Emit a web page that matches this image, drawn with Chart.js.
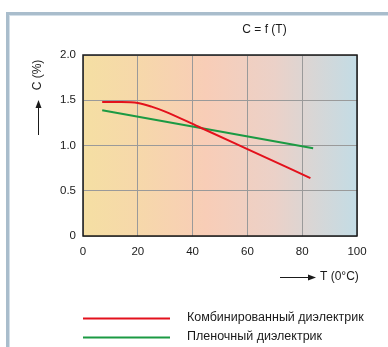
<!DOCTYPE html>
<html>
<head>
<meta charset="utf-8">
<script src="https://cdn.jsdelivr.net/npm/chart.js"></script>
<style>
  html, body { margin: 0; padding: 0; background: #fff; }
  #wrap { width: 388px; height: 347px; position: relative; }
</style>
</head>
<body>
<div id="wrap"><canvas id="chart" width="388" height="347"></canvas></div>
<script>
// chart data
const combinedT = [7, 14, 20, 25, 30, 42, 60, 83];
const combinedC = [1.48, 1.48, 1.47, 1.43, 1.375, 1.21, 0.96, 0.64];
const filmT = [7, 84];
const filmC = [1.39, 0.97];
const seriesLabels = ['Комбинированный диэлектрик', 'Пленочный диэлектрик'];
const seriesColors = ['#e3111c', '#1b9a43'];
const xTicks = [0, 20, 40, 60, 80, 100];
const yTicks = [0, 0.5, 1.0, 1.5, 2.0];
const chartTitle = 'C = f (T)';
const yTitle = 'C (%)';
const xTitle = 'T (0°C)';

const FONT = 'Liberation Sans, Arial, sans-serif';

const decor = {
  id: 'decor',
  beforeDraw(chart) {
    const { ctx, chartArea: a } = chart;
    ctx.save();
    // outer frame
    ctx.strokeStyle = '#a9bdcc';
    ctx.lineWidth = 3;
    ctx.strokeRect(7.5, 13.5, 500, 500);
    ctx.strokeStyle = '#d3dfe8';
    ctx.lineWidth = 1;
    ctx.strokeRect(9.5, 15.5, 500, 500);
    // plot background gradient
    const g = ctx.createLinearGradient(a.left, 0, a.right, 0);
    g.addColorStop(0, '#f5dfa3');
    g.addColorStop(0.2, '#f6d8aa');
    g.addColorStop(0.45, '#f8cdb7');
    g.addColorStop(0.7, '#ebd1c8');
    g.addColorStop(1, '#c3dce5');
    ctx.fillStyle = g;
    ctx.fillRect(a.left, a.top, a.right - a.left, a.bottom - a.top);
    ctx.restore();
  },
  afterDraw(chart) {
    const { ctx, chartArea: a } = chart;
    ctx.save();
    // plot border
    ctx.strokeStyle = '#1a1a1a';
    ctx.lineWidth = 1.5;
    ctx.strokeRect(a.left, a.top, a.right - a.left, a.bottom - a.top);

    ctx.fillStyle = '#1a1a1a';
    ctx.font = '12px ' + FONT;
    ctx.textBaseline = 'middle';
    // title
    ctx.textAlign = 'center';
    ctx.fillText(chartTitle, 264.5, 30);

    // y title rotated + arrow
    ctx.save();
    ctx.translate(38, 75);
    ctx.rotate(-Math.PI / 2);
    ctx.fillText(yTitle, 0, 0);
    ctx.restore();
    ctx.strokeStyle = '#1a1a1a';
    ctx.lineWidth = 1;
    ctx.beginPath();
    ctx.moveTo(38.5, 135);
    ctx.lineTo(38.5, 106);
    ctx.stroke();
    ctx.beginPath();
    ctx.moveTo(38.5, 100);
    ctx.lineTo(35.5, 108);
    ctx.lineTo(41.5, 108);
    ctx.closePath();
    ctx.fill();

    // x title + arrow
    ctx.beginPath();
    ctx.moveTo(280, 277.5);
    ctx.lineTo(310, 277.5);
    ctx.stroke();
    ctx.beginPath();
    ctx.moveTo(316, 277.5);
    ctx.lineTo(308, 274.5);
    ctx.lineTo(308, 280.5);
    ctx.closePath();
    ctx.fill();
    ctx.textAlign = 'left';
    ctx.fillText(xTitle, 320, 277);

    // legend
    ctx.font = '12.5px ' + FONT;
    const legY = [318.5, 337.5];
    chart.data.datasets.forEach((ds, i) => {
      ctx.strokeStyle = ds.borderColor;
      ctx.lineWidth = 2;
      ctx.beginPath();
      ctx.moveTo(83, legY[i]);
      ctx.lineTo(170, legY[i]);
      ctx.stroke();
      ctx.fillStyle = '#1a1a1a';
      ctx.fillText(ds.label, 187, legY[i] - 1);
    });
    ctx.restore();
  }
};

new Chart(document.getElementById('chart'), {
  type: 'line',
  data: {
    datasets: [
      {
        label: seriesLabels[0],
        data: combinedT.map((t, i) => ({ x: t, y: combinedC[i] })),
        borderColor: seriesColors[0],
        borderWidth: 2,
        pointRadius: 0,
        cubicInterpolationMode: 'monotone',
        fill: false
      },
      {
        label: seriesLabels[1],
        data: filmT.map((t, i) => ({ x: t, y: filmC[i] })),
        borderColor: seriesColors[1],
        borderWidth: 2,
        pointRadius: 0,
        fill: false
      }
    ]
  },
  options: {
    responsive: false,
    animation: false,
    layout: { padding: { top: 55, right: 31, left: 0, bottom: 0 } },
    plugins: { legend: { display: false }, tooltip: { enabled: false } },
    scales: {
      x: {
        type: 'linear',
        min: 0,
        max: 100,
        afterBuildTicks: s => { s.ticks = xTicks.map(v => ({ value: v })); },
        afterFit: s => { s.height = 111; },
        grid: { color: '#9a9a9a', lineWidth: 1, drawTicks: false },
        border: { display: false },
        ticks: { color: '#1a1a1a', font: { family: FONT, size: 11.5 }, padding: 9, maxRotation: 0 }
      },
      y: {
        min: 0,
        max: 2,
        afterBuildTicks: s => { s.ticks = yTicks.map(v => ({ value: v })); },
        afterFit: s => { s.width = 83; },
        grid: { color: '#9a9a9a', lineWidth: 1, drawTicks: false },
        border: { display: false },
        ticks: {
          color: '#1a1a1a',
          font: { family: FONT, size: 11.5 },
          padding: 7,
          callback: v => (v === 0 ? '0' : v.toFixed(1))
        }
      }
    }
  },
  plugins: [decor]
});
</script>
</body>
</html>
